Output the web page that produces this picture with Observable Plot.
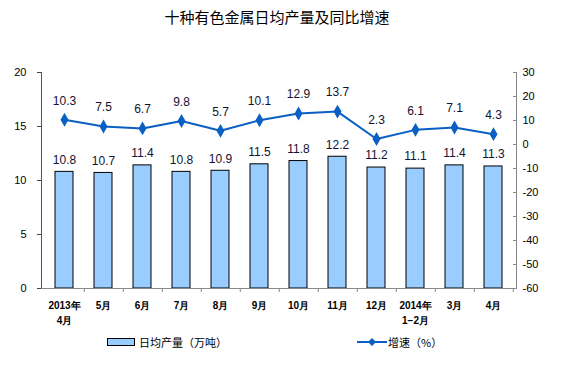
<!DOCTYPE html>
<html><head><meta charset="utf-8">
<script src="https://cdn.jsdelivr.net/npm/d3@7"></script>
<script src="https://cdn.jsdelivr.net/npm/@observablehq/plot@0.6"></script>
<style>
body{margin:0;background:#fff;}
#wrap{position:relative;width:562px;height:378px;font-family:"Noto Sans CJK SC",sans-serif;color:#000;}
#title{position:absolute;left:0;width:554px;top:6px;text-align:center;font-size:15px;line-height:22px;}
#chart{position:absolute;left:0;top:0;}
.lg{position:absolute;font-size:11px;line-height:16px;top:334px;}
#sw{position:absolute;left:107px;top:338px;width:26px;height:6px;background:#99ccff;border:1px solid #000;}
#lsw{position:absolute;left:356px;top:336px;}
</style></head>
<body>
<div id="wrap">
  <div id="chart"></div>
  <div id="title">十种有色金属日均产量及同比增速</div>
  <div id="sw"></div>
  <div class="lg" style="left:139px;">日均产量（万吨）</div>
  <svg id="lsw" width="32" height="12"><line x1="1" y1="6" x2="31" y2="6" stroke="#0a5fc4" stroke-width="2"/><path d="M16,2 L20,6 L16,10 L12,6 Z" fill="#0a5fc4"/></svg>
  <div class="lg" style="left:388px;">增速（%）</div>
</div>
<script>
const categories = ["2013年\n4月","5月","6月","7月","8月","9月","10月","11月","12月","2014年\n1−2月","3月","4月"];
const output = [10.8, 10.7, 11.4, 10.8, 10.9, 11.5, 11.8, 12.2, 11.2, 11.1, 11.4, 11.3];
const growth = [10.3, 7.5, 6.7, 9.8, 5.7, 10.1, 12.9, 13.7, 2.3, 6.1, 7.1, 4.3];
const leftTicks = [0, 5, 10, 15, 20];
const rightTicks = [-60, -50, -40, -30, -20, -10, 0, 10, 20, 30];

const toLeft = v => (v + 60) * 20 / 90;
const rows = categories.map((c, i) => ({cat: c, output: output[i], growth: growth[i]}));
const W = 562, ML = 41, MR = 46;
const step = (W - ML - MR) / categories.length;
const blue = "#0a5fc4";

const chart = Plot.plot({
  width: W, height: 378,
  marginLeft: ML, marginRight: MR, marginTop: 72, marginBottom: 90,
  style: {fontFamily: "'Liberation Sans', Arial, sans-serif", fontSize: "11px", background: "transparent", color: "#000"},
  x: {domain: categories, paddingInner: 0.55, paddingOuter: 0.275, axis: null},
  y: {domain: [0, 20], axis: null},
  marks: [
    Plot.barY(rows, {x: "cat", y: "output", fill: "#99ccff", stroke: "#000", strokeWidth: 1}),
    Plot.frame({anchor: "left", stroke: "#555"}),
    Plot.frame({anchor: "right", stroke: "#888"}),
    Plot.frame({anchor: "bottom", stroke: "#888"}),
    Plot.ruleX(rows, {x: "cat", dx: step / 2, y1: 0, y2: -4 / 10.8, stroke: "#888"}),
    Plot.axisY({anchor: "left", label: null, ticks: leftTicks, tickSize: 4, tickPadding: 11, color: "#444", fill: "#000", fontSize: 11, tickFormat: d => String(d)}),
    Plot.axisY({anchor: "right", label: null, ticks: rightTicks.map(toLeft), tickSize: -4, tickPadding: 10, color: "#888", fill: "#000", fontSize: 11, tickFormat: d => String(Math.round(d * 4.5 - 60)).replace("−", "-")}),
    Plot.text(rows, {x: "cat", y: 0, text: "cat", lineAnchor: "top", dy: 10, lineHeight: 1.5, fontSize: 10, fontWeight: "bold", fill: "#000"}),
    Plot.text(rows, {x: "cat", y: "output", text: d => d.output.toFixed(1), dy: -12, fontSize: 12, fill: "#111133"}),
    Plot.line(rows, {x: "cat", y: d => toLeft(d.growth), stroke: blue, strokeWidth: 2}),
    Plot.dot(rows, {x: "cat", y: d => toLeft(d.growth), symbol: "diamond", r: 4.2, fill: blue, stroke: "none"}),
    Plot.text(rows, {x: "cat", y: d => toLeft(d.growth), text: d => d.growth.toFixed(1), dy: -19, fontSize: 12, fill: "#111133"})
  ]
});
document.getElementById("chart").appendChild(chart);
</script>
</body></html>
